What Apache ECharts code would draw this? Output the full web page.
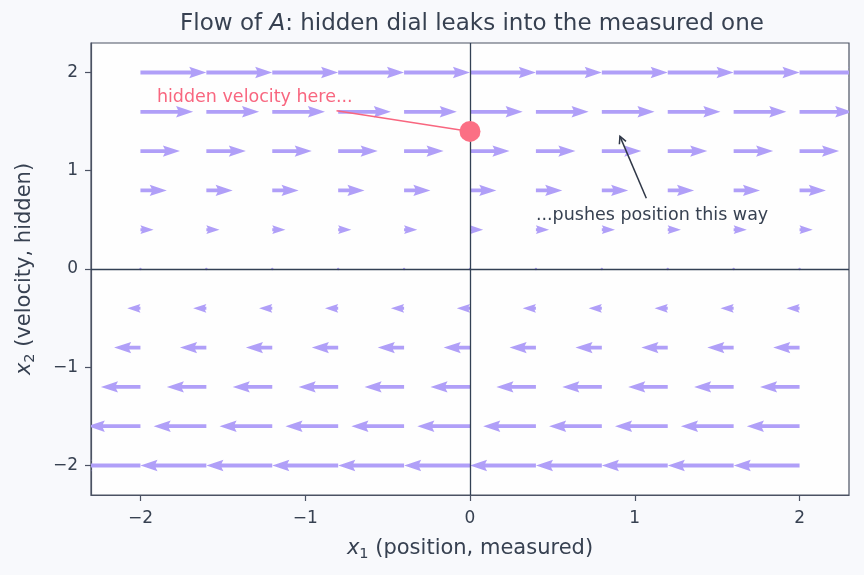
<!DOCTYPE html>
<html>
<head>
<meta charset="utf-8">
<script src="https://cdn.jsdelivr.net/npm/echarts@6/dist/echarts.min.js"></script>
<style>
html,body{margin:0;padding:0;background:#f8f9fc;}
#chart{width:864px;height:575px;}
</style>
</head>
<body>
<div id="chart"></div>
<script>
// ---- data ----
const x1Grid = [-2, -1.6, -1.2, -0.8, -0.4, 0, 0.4, 0.8, 1.2, 1.6, 2];
const x2Grid = [-2, -1.6, -1.2, -0.8, -0.4, 0, 0.4, 0.8, 1.2, 1.6, 2];
const flowMatrix = [[0, 1], [0, 0]];   // A: dx1 = x2, dx2 = 0
const quiverScale = 0.2;               // arrow length per unit of flow
const xTicks = [-2, -1, 0, 1, 2];
const yTicks = [-2, -1, 0, 1, 2];
const highlightPoint = [0, 1.4];
const noteTexts = ['hidden velocity here...', '...pushes position this way'];
const noteTextPos = [[-1.90, 1.75], [0.40, 0.55]];
const noteArrowFrom = [[-0.81, 1.61], [1.07, 0.72]];
const noteArrowTo = [[0, 1.4], [0.91, 1.35]];

// ---- styling ----
const FONT = 'DejaVu Sans';
const TXT = '#374151';
const FRAME = '#4b5263';
const ARROW = '#b09ff8';
const PINK = '#f8667f';

const quiverData = [];
for (const y of x2Grid) {
  for (const x of x1Grid) {
    const u = flowMatrix[0][0] * x + flowMatrix[0][1] * y;
    const v = flowMatrix[1][0] * x + flowMatrix[1][1] * y;
    quiverData.push([x, y, u, v]);
  }
}

function renderQuiver(params, api) {
  const x = api.value(0), y = api.value(1), u = api.value(2), v = api.value(3);
  const p0 = api.coord([x, y]);
  const p1 = api.coord([x + u * quiverScale, y + v * quiverScale]);
  const dx = p1[0] - p0[0], dy = p1[1] - p0[1];
  const W = 3.8;
  const L = Math.hypot(dx, dy) / W;
  if (L < 1) {
    return {type: 'circle', shape: {cx: p0[0], cy: p0[1], r: 1.2}, style: {fill: ARROW}};
  }
  const ang = Math.atan2(dy, dx);
  let X, Y;
  if (L >= 4.5) {
    X = [0, L - 4.0, L - 4.5, L];
    Y = [0.5, 0.5, 1.5, 0];
  } else {
    const s = L / 4.5;
    X = [0, 0.5, 0, 4.5].map(t => t * s);
    Y = [0.5, 0.5, 1.5, 0].map(t => t * s);
  }
  const loc = [[X[0], Y[0]], [X[1], Y[1]], [X[2], Y[2]], [X[3], 0], [X[2], -Y[2]], [X[1], -Y[1]], [X[0], -Y[0]]];
  const c = Math.cos(ang), sn = Math.sin(ang);
  const pts = loc.map(([a, b]) => [p0[0] + W * (a * c - b * sn), p0[1] + W * (a * sn + b * c)]);
  return {type: 'polygon', shape: {points: pts}, style: {fill: ARROW}};
}

function renderNotes(params, api) {
  const i = params.dataIndex;
  const a = api.coord(noteArrowFrom[i]);
  const b = api.coord(noteArrowTo[i]);
  const t = api.coord(noteTextPos[i]);
  const col = i === 0 ? PINK : '#2f3747';
  const children = [
    {type: 'line', shape: {x1: a[0], y1: a[1], x2: b[0], y2: b[1]}, style: {stroke: col, lineWidth: 1.5}},
    {type: 'text', x: t[0], y: t[1], style: {text: noteTexts[i], fill: i === 0 ? PINK : TXT, font: '17.5px "DejaVu Sans"', textAlign: 'left', textVerticalAlign: 'middle'}}
  ];
  if (i === 1) {
    const ang = Math.atan2(a[1] - b[1], a[0] - b[0]);
    const hl = 7, hw = 3.6;
    const c = Math.cos(ang), s = Math.sin(ang);
    const p1 = [b[0] + hl * c - hw * s, b[1] + hl * s + hw * c];
    const p2 = [b[0] + hl * c + hw * s, b[1] + hl * s - hw * c];
    children.push({type: 'polyline', shape: {points: [p1, b, p2]}, style: {stroke: col, lineWidth: 1.5, fill: null}});
  }
  return {type: 'group', children};
}

const minusFmt = v => String(v).replace('-', '\u2212');

const chart = echarts.init(document.getElementById('chart'), null, {renderer: 'canvas'});
chart.setOption({
  backgroundColor: '#f8f9fc',
  animation: false,
  title: {
    text: '{a|Flow of }{b|A}{a|: hidden dial leaks into the measured one}',
    left: 472, top: 13, textAlign: 'center', padding: 0,
    textStyle: {
      fontWeight: 'normal',
      rich: {
        a: {fontFamily: FONT, fontSize: 23, color: TXT, fontWeight: 'normal'},
        b: {fontFamily: FONT, fontSize: 23, color: TXT, fontStyle: 'italic', fontWeight: 'normal'}
      }
    }
  },
  grid: {left: 91, right: 15, top: 43, bottom: 80, show: true, backgroundColor: '#fefefe', borderColor: FRAME, borderWidth: 1.2},
  xAxis: {
    type: 'value', min: -2.3, max: 2.3,
    name: '{i|x}{s|1}{n| (position, measured)}',
    nameLocation: 'middle', nameGap: 43,
    nameTextStyle: {
      rich: {
        i: {fontFamily: FONT, fontSize: 21, color: TXT, fontStyle: 'italic'},
        s: {fontFamily: FONT, fontSize: 14.5, color: TXT, verticalAlign: 'bottom', padding: [0, 0, -3, 0]},
        n: {fontFamily: FONT, fontSize: 21, color: TXT}
      }
    },
    splitLine: {show: false},
    axisLine: {show: true, onZero: false, lineStyle: {color: FRAME, width: 1.2}},
    axisTick: {show: true, length: 6, inside: false, customValues: xTicks, lineStyle: {color: FRAME, width: 1.2}},
    axisLabel: {customValues: xTicks, formatter: minusFmt, fontFamily: FONT, fontSize: 17, color: TXT, margin: 15}
  },
  yAxis: {
    type: 'value', min: -2.3, max: 2.3,
    name: '{i|x}{s|2}{n| (velocity, hidden)}',
    nameLocation: 'middle', nameGap: 56, nameRotate: 90,
    nameTextStyle: {
      rich: {
        i: {fontFamily: FONT, fontSize: 21, color: TXT, fontStyle: 'italic'},
        s: {fontFamily: FONT, fontSize: 14.5, color: TXT, verticalAlign: 'bottom', padding: [0, 0, -3, 0]},
        n: {fontFamily: FONT, fontSize: 21, color: TXT}
      }
    },
    splitLine: {show: false},
    axisLine: {show: true, onZero: false, lineStyle: {color: FRAME, width: 1.2}},
    axisTick: {show: true, length: 6, inside: false, customValues: yTicks, lineStyle: {color: FRAME, width: 1.2}},
    axisLabel: {customValues: yTicks, formatter: minusFmt, fontFamily: FONT, fontSize: 17, color: TXT, margin: 13}
  },
  series: [
    {
      type: 'custom', name: 'flow', data: quiverData, renderItem: renderQuiver, clip: true, z: 2, silent: true
    },
    {
      type: 'scatter', name: 'zero', data: [], z: 3, silent: true,
      markLine: {
        silent: true, symbol: 'none', animation: false,
        label: {show: false},
        lineStyle: {color: '#334155', width: 1.3, type: 'solid'},
        data: [{xAxis: 0}, {yAxis: 0}]
      }
    },
    {
      type: 'custom', name: 'notes', data: noteTexts.map((t, i) => [i]), renderItem: renderNotes, clip: false, z: 4, silent: true
    },
    {
      type: 'scatter', name: 'point', data: [highlightPoint], symbolSize: 21, z: 6, silent: true,
      itemStyle: {color: '#fb6f84', opacity: 1}
    }
  ]
});
</script>
</body>
</html>
